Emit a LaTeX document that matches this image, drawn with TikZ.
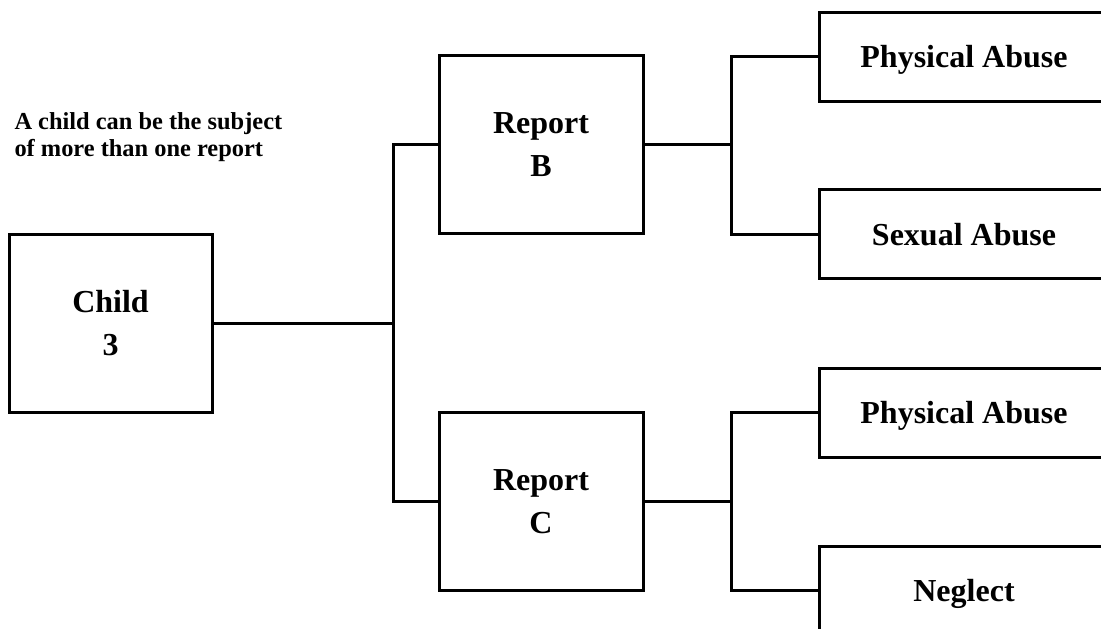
\documentclass[tikz,border=0pt]{standalone}
\usepackage{fontspec}
\setmainfont{Liberation Serif}
\begin{document}
\begin{tikzpicture}[x=0.5pt,y=-0.5pt,line width=1.5pt,
  box/.style={draw,line width=1.5pt,inner sep=0pt,align=center,
    font=\fontsize{16}{21.5}\selectfont\bfseries},
  midbox/.style={box,minimum width=102pt,minimum height=89pt},
  leafbox/.style={box,minimum width=145pt,minimum height=44.5pt,text depth=0pt},
  note/.style={align=left,inner sep=0pt,font=\fontsize{12.2}{13.5}\selectfont\bfseries}]
\useasboundingbox (0,0) rectangle (1101,628);
\clip (0,0) rectangle (1101,628);
\node[midbox,minimum width=101.5pt] (child) at (110.5,323) {Child\\3};
\node[midbox] (rb) at (541,144.5) {Report\\B};
\node[midbox] (rc) at (541,501.5) {Report\\C};
\node[leafbox] (pa1) at (964,56.5) {Physical Abuse};
\node[leafbox] (sa) at (964,234) {Sexual Abuse};
\node[leafbox] (pa2) at (964,412.5) {Physical Abuse};
\node[leafbox] (ng) at (964,590.5) {Neglect};
\node[note,anchor=north west] (txt) at (13,111) {A child can be the subject\\of more than one report};
\coordinate (j1) at (393,323);
\coordinate (j2) at (731,144.5);
\coordinate (j3) at (731,501.5);
\draw (child.east) -- (j1) |- (rb.west);
\draw (j1) |- (rc.west);
\draw (rb.east) -- (j2) |- (pa1.west);
\draw (j2) |- (sa.west);
\draw (rc.east) -- (j3) |- (pa2.west);
\draw (j3) |- (ng.west);
\end{tikzpicture}
\end{document}
